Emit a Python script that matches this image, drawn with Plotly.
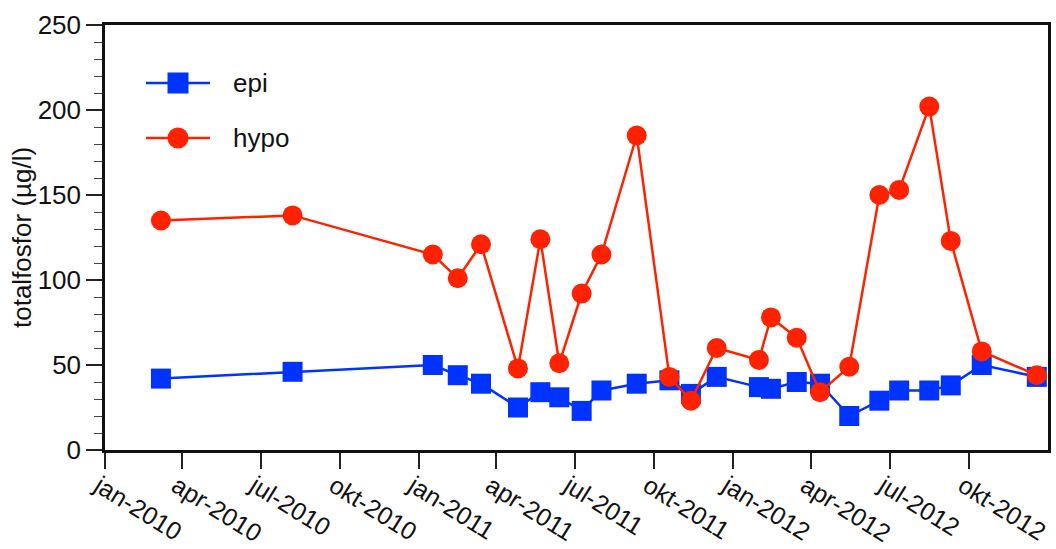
import plotly.graph_objects as go

# Sampling dates (shared by both depths)
dates = [
    "2010-03-07", "2010-08-07", "2011-01-17", "2011-02-15", "2011-03-14",
    "2011-04-26", "2011-05-22", "2011-06-13", "2011-07-09", "2011-08-01",
    "2011-09-11", "2011-10-19", "2011-11-13", "2011-12-13", "2012-01-31",
    "2012-02-14", "2012-03-15", "2012-04-11", "2012-05-15", "2012-06-19",
    "2012-07-12", "2012-08-16", "2012-09-10", "2012-10-16", "2012-12-19",
]

# Total phosphorus (µg/l)
epi = [42, 46, 50, 44, 39, 25, 34, 31, 23, 35, 39, 41, 33, 43, 37,
       36, 40, 39, 20, 29, 35, 35, 38, 50, 43]
hypo = [135, 138, 115, 101, 121, 48, 124, 51, 92, 115, 185, 43, 29, 60, 53,
        78, 66, 34, 49, 150, 153, 202, 123, 58, 44]

# Quarterly x ticks
tick_vals = [
    "2010-01-01", "2010-04-01", "2010-07-01", "2010-10-01",
    "2011-01-01", "2011-04-01", "2011-07-01", "2011-10-01",
    "2012-01-01", "2012-04-01", "2012-07-01", "2012-10-01",
]
tick_text = [
    "jan-2010", "apr-2010", "jul-2010", "okt-2010",
    "jan-2011", "apr-2011", "jul-2011", "okt-2011",
    "jan-2012", "apr-2012", "jul-2012", "okt-2012",
]

series_names = ["epi", "hypo"]
BLUE = "#0033ff"
RED = "#ff2200"
FONT = "Liberation Sans, Arial, sans-serif"
INK = "#111"
FS = 26

fig = go.Figure()
fig.add_trace(go.Scatter(
    x=dates, y=epi, name=series_names[0], mode="lines+markers",
    line=dict(color=BLUE, width=2.5),
    marker=dict(symbol="square", size=20, color=BLUE),
))
fig.add_trace(go.Scatter(
    x=dates, y=hypo, name=series_names[1], mode="lines+markers",
    line=dict(color=RED, width=2.5),
    marker=dict(symbol="circle", size=20, color=RED),
))

# Plot area geometry in pixels (used to place the hand-drawn legend)
L, R, T, B = 105, 8, 25, 99
W, H = 1056, 549
pw, ph = W - L - R, H - T - B


def px(xp):
    return (xp - L) / pw


def py(yp):
    return (H - B - yp) / ph


shapes = []
annotations = []
legend_rows = [(series_names[0], BLUE, "square", 83), (series_names[1], RED, "circle", 138)]
for name, color, sym, yrow in legend_rows:
    shapes.append(dict(type="line", xref="paper", yref="paper",
                       x0=px(146), x1=px(210), y0=py(yrow), y1=py(yrow),
                       line=dict(color=color, width=2.5)))
    shapes.append(dict(type="rect" if sym == "square" else "circle",
                       xref="paper", yref="paper",
                       xsizemode="pixel", ysizemode="pixel",
                       xanchor=px(178), yanchor=py(yrow),
                       x0=-10.5, x1=10.5, y0=-10.5, y1=10.5,
                       fillcolor=color, line=dict(width=0)))
    annotations.append(dict(text=name, xref="paper", yref="paper",
                            x=px(231), y=py(yrow), xanchor="left", yanchor="middle",
                            showarrow=False, font=dict(family=FONT, size=FS, color=INK)))

annotations.append(dict(text="totalfosfor (µg/l)", xref="paper", yref="paper",
                        x=px(22), y=py(238), xanchor="center", yanchor="middle",
                        textangle=-90, showarrow=False,
                        font=dict(family=FONT, size=FS, color=INK)))

fig.update_layout(
    width=W, height=H,
    margin=dict(l=L, r=R, t=T, b=B, autoexpand=False),
    paper_bgcolor="white", plot_bgcolor="white",
    showlegend=False,
    font=dict(family=FONT, size=FS, color=INK),
    shapes=shapes, annotations=annotations,
)
fig.update_xaxes(
    type="date", range=["2010-01-01", "2013-01-01"], automargin=False,
    tickvals=tick_vals, ticktext=tick_text, tickangle=32,
    ticklabeloverflow="allow", ticklabelstandoff=-7, ticklabelshift=-6,
    ticks="outside", ticklen=16, tickwidth=1.5, tickcolor="#222",
    showline=True, linecolor=INK, linewidth=2.5, mirror=True,
    showgrid=False, zeroline=False,
    tickfont=dict(family=FONT, size=25, color=INK),
)
fig.update_yaxes(
    range=[0, 250], tickvals=[0, 50, 100, 150, 200, 250], automargin=False,
    ticks="outside", ticklen=16, tickwidth=1.5, tickcolor="#222",
    minor=dict(tickvals=[v for v in range(0, 251, 10) if v % 50], ticks="outside",
               ticklen=8, tickwidth=1, tickcolor="#444"),
    showline=True, linecolor=INK, linewidth=2.5, mirror=True,
    showgrid=False, zeroline=False,
    tickfont=dict(family=FONT, size=FS, color=INK),
)

fig.write_html("out.html")
